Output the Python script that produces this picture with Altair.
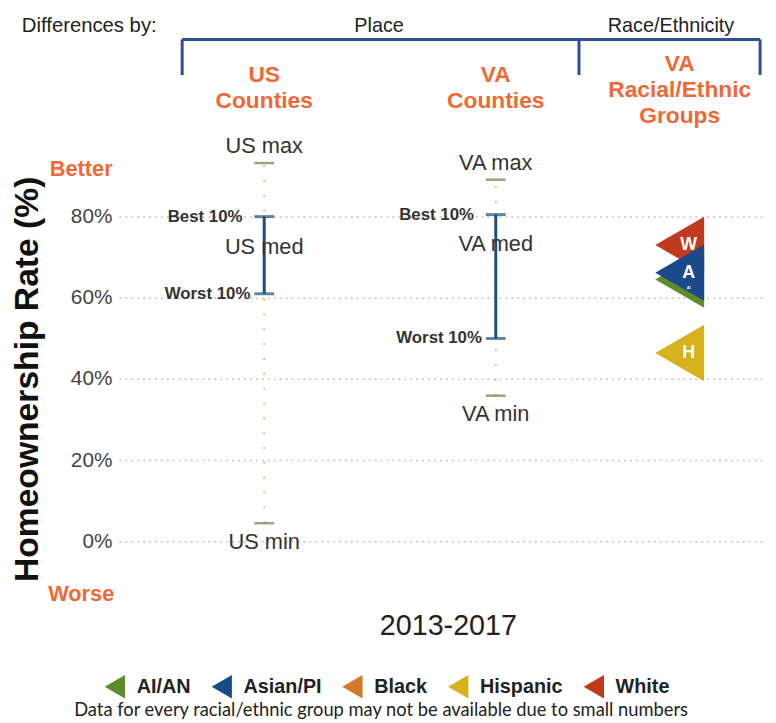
import altair as alt
import pandas as pd

# ---------------- data ----------------
places = ["US", "VA"]
place_max = [93.2, 89.1]
place_best10 = [80.0, 80.5]
place_median = [72.5, 73.2]
place_worst10 = [61.0, 50.0]
place_min = [4.5, 35.9]

groups = ["AI/AN", "Asian/PI", "Black", "Hispanic", "White"]
group_letters = ["AI", "A", "B", "H", "W"]
group_rate = [64.5, 66.2, None, 46.4, 73.0]

y_ticks = [0, 20, 40, 60, 80]
period = "2013-2017"
footnote = "Data for every racial/ethnic group may not be available due to small numbers"

# ---------------- layout / style ----------------
W, H = 650, 476
Y_DOMAIN = [-16, 100]
COL_X = [22.6, 58.6]            # place columns, in % of plot width
GROUP_X = 87.2                  # racial/ethnic column
GROUP_COLORS = ["#5f8c2a", "#1a4a8a", "#d4782c", "#d7b21c", "#c23a1e"]
DRAW_ORDER = ["White", "AI/AN", "Asian/PI", "Hispanic", "Black"]
ORANGE = "#f06836"
NAVY = "#1f4e79"
BRACKET = "#2e4d9b"
TICKC = "#77774f"
DOTC = "#e3b98a"
TXT = "#333333"
FONT = "Liberation Sans"

pdf = pd.DataFrame({
    "place": places, "x": COL_X, "max": place_max, "best": place_best10,
    "med": place_median, "worst": place_worst10, "min": place_min,
})
pdf["max_label"] = pdf["place"] + " max"
pdf["med_label"] = pdf["place"] + " med"
pdf["min_label"] = pdf["place"] + " min"
pdf["best_label"] = "Best 10%"
pdf["worst_label"] = "Worst 10%"

gdf = pd.DataFrame({"group": groups, "letter": group_letters, "rate": group_rate}).dropna()
gdf["x"] = GROUP_X
gdf["z"] = gdf["group"].map(DRAW_ORDER.index)
gdf = gdf.sort_values("z")

xs = alt.Scale(domain=[0, 100])
ys = alt.Scale(domain=Y_DOMAIN, nice=False, zero=False)
yaxis = alt.Axis(
    values=y_ticks, labelExpr="datum.value + '%'", title="Homeownership Rate (%)",
    grid=True, gridDash=[2, 4], gridColor="#c4c4c4", gridWidth=1.5,
    domain=False, ticks=False, labelPadding=7, labelFontSize=21, labelColor="#444444",
    labelFont=FONT, titleFont=FONT, titleFontSize=34, titleFontWeight="bold",
    titleColor="#111111", titleAngle=270, titleX=-92, titleY=246,
    titleAlign="center", titleBaseline="middle",
)


def X():
    return alt.X("x:Q", scale=xs, axis=None)


def Y(f):
    return alt.Y(f"{f}:Q", scale=ys, axis=yaxis)


base = alt.Chart(pdf)

dots = base.mark_rule(strokeDash=[2, 13], color=DOTC, strokeWidth=2).encode(
    x=X(), y=Y("min"), y2="max:Q")
tmax = base.mark_tick(orient="horizontal", size=20, thickness=2.5, color=TICKC).encode(x=X(), y=Y("max"))
tmin = base.mark_tick(orient="horizontal", size=20, thickness=2.5, color=TICKC).encode(x=X(), y=Y("min"))
bar = base.mark_rule(color=NAVY, strokeWidth=3).encode(x=X(), y=Y("worst"), y2="best:Q")
cap1 = base.mark_tick(orient="horizontal", size=20, thickness=3, color=NAVY).encode(x=X(), y=Y("best"))
cap2 = base.mark_tick(orient="horizontal", size=20, thickness=3, color=NAVY).encode(x=X(), y=Y("worst"))

lab_kw = dict(font=FONT, fontSize=22, color=TXT)
lmax = base.mark_text(dy=-17, **lab_kw).encode(x=X(), y=Y("max"), text="max_label:N")
lmin = base.mark_text(dy=19, **lab_kw).encode(x=X(), y=Y("min"), text="min_label:N")
lmed = base.mark_text(**lab_kw).encode(x=X(), y=Y("med"), text="med_label:N")
lbest = base.mark_text(dx=-22, align="right", font=FONT, fontSize=17, fontWeight="bold", color=TXT).encode(
    x=X(), y=Y("best"), text="best_label:N")
lworst = base.mark_text(dx=-14, align="right", font=FONT, fontSize=17, fontWeight="bold", color=TXT).encode(
    x=X(), y=Y("worst"), text="worst_label:N")

color = alt.Color(
    "group:N",
    scale=alt.Scale(domain=groups, range=GROUP_COLORS),
    legend=alt.Legend(
        title=None, orient="none", legendX=-16, legendY=545, direction="horizontal",
        symbolType="triangle-left", symbolSize=560, symbolOpacity=1, symbolStrokeWidth=0,
        labelFont=FONT, labelFontSize=20, labelFontWeight="bold", labelColor="#222222",
        labelOffset=10, columnPadding=19,
    ),
)
tri = alt.Chart(gdf).mark_point(shape="triangle-left", size=3249, filled=True, opacity=1, strokeWidth=0).encode(
    x=X(), y=Y("rate"), color=color, order=alt.Order("z:Q"))
tri_txt = alt.Chart(gdf).transform_filter("datum.letter != 'AI'").mark_text(
    dx=9, font=FONT, fontSize=18, fontWeight="bold", color="white").encode(
    x=X(), y=Y("rate"), text="letter:N")
tri_txt_small = alt.Chart(gdf).transform_filter("datum.letter == 'AI'").mark_text(
    dx=9, dy=9, font=FONT, fontSize=4, fontWeight="bold", color="white").encode(
    x=X(), y=Y("rate"), text="letter:N")

one = pd.DataFrame({"a": [0]})


def note(text, x, y, size, color="#222222", weight="normal", align="center", font=FONT):
    return alt.Chart(one).mark_text(
        text=text, font=font, fontSize=size, color=color, fontWeight=weight,
        align=align, baseline="middle").encode(x=alt.value(x), y=alt.value(y))


hdr = pd.DataFrame({"x": COL_X + [GROUP_X], "y": [-61, -61, -72]})
hdr["t"] = [["US", "Counties"], ["VA", "Counties"], ["VA", "Racial/Ethnic", "Groups"]]
heads = alt.Chart(hdr).mark_text(font=FONT, fontSize=23, fontWeight="bold", color=ORANGE,
                                 lineHeight=26, baseline="middle").encode(
    x=X(), y=alt.Y("y:Q", scale=None), text="t")

brk = pd.DataFrame({"x1": [64, 64, 465, 648], "x2": [648, 64, 465, 648],
                    "y1": [-97, -97, -97, -97], "y2": [-97, -61, -61, -61]})
bracket = alt.Chart(brk).mark_rule(color=BRACKET, strokeWidth=3).encode(
    x=alt.X("x1:Q", scale=None), x2="x2:Q", y=alt.Y("y1:Q", scale=None), y2="y2:Q")

layers = [
    dots, tmax, tmin, bar, cap1, cap2, lmax, lmin, lmed, lbest, lworst,
    tri, tri_txt, tri_txt_small, heads, bracket,
    note("Differences by:", -98, -111, 20.5, align="left"),
    note("Place", 263, -111, 20),
    note("Race/Ethnicity", 558, -111, 20),
    note("Better", -38, 34, 22, color=ORANGE, weight="bold"),
    note("Worse", -38, 463, 22, color=ORANGE, weight="bold"),
    note(period, 333, 496, 29),
    note(footnote, 265, 581, 18.5, font="Lato"),
]

chart = alt.layer(*layers).properties(
    width=W, height=H,
    autosize=alt.AutoSizeParams(type="none"),
    padding={"left": 112, "top": 125, "right": 6, "bottom": 112},
).configure(background="white").configure_view(stroke=None)

chart.save("out.html", embed_options={"renderer": "svg", "actions": False})
